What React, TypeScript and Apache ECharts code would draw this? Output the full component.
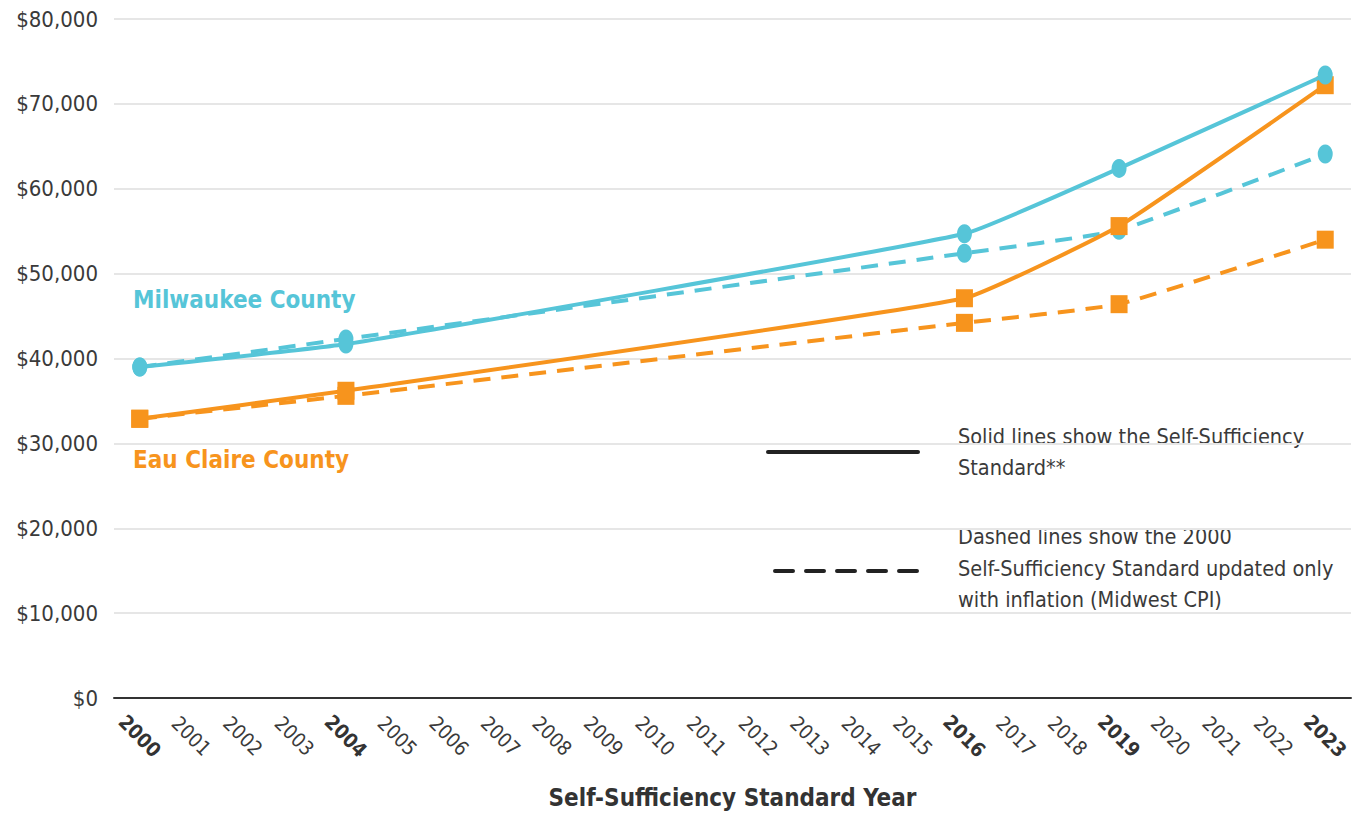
import React, { useEffect, useRef } from "react";
import * as echarts from "echarts";

const years = Array.from({ length: 24 }, (_, i) => String(2000 + i));
const boldYears = ["2000", "2004", "2016", "2019", "2023"];
const yTicks = [0, 10000, 20000, 30000, 40000, 50000, 60000, 70000, 80000];

// values at standard years (nulls elsewhere)
const milwaukeeSolid: Record<string, number> = { "2000": 39000, "2004": 41700, "2016": 54700, "2019": 62400, "2023": 73400 };
const milwaukeeDashed: Record<string, number> = { "2000": 39000, "2004": 42300, "2016": 52400, "2019": 55100, "2023": 64100 };
const eauClaireSolid: Record<string, number> = { "2000": 32900, "2004": 36200, "2016": 47100, "2019": 55600, "2023": 72200 };
const eauClaireDashed: Record<string, number> = { "2000": 32900, "2004": 35600, "2016": 44200, "2019": 46400, "2023": 54000 };

const CYAN = "#56C5D8";
const ORANGE = "#F7941D";
const TEXT = "#3a3a3a";
const FONT = "'Liberation Sans Narrow', 'DejaVu Sans Condensed', 'Roboto', sans-serif";

const toSeries = (m: Record<string, number>) => years.map((y) => (m[y] !== undefined ? m[y] : null));

export default function App() {
  const ref = useRef<HTMLDivElement>(null);
  useEffect(() => {
    if (!ref.current) return;
    const chart = echarts.init(ref.current, null, { renderer: "svg" });
    const line = (name: string, data: Record<string, number>, color: string, dashed: boolean, symbol: string, z: number) => ({
      name,
      type: "line",
      data: toSeries(data),
      connectNulls: true,
      smooth: 0.12,
      z,
      symbol,
      symbolSize: symbol === "circle" ? [15, 19] : [17, 18],
      itemStyle: { color },
      lineStyle: { color, width: 4, type: dashed ? [17, 11] : "solid" },
    });
    chart.setOption({
      animation: false,
      grid: { left: 114, right: 6, top: 19, bottom: 118, outerBoundsMode: "none" },
      xAxis: {
        type: "category",
        data: years,
        boundaryGap: true,
        axisLine: { lineStyle: { color: "#333", width: 2 } },
        axisTick: { show: false },
        axisLabel: {
          interval: 0,
          rotate: -45,
          margin: 38,
          align: "center",
          verticalAlign: "middle",
          fontFamily: FONT,
          fontSize: 20,
          color: TEXT,
          formatter: (v: string) => (boldYears.includes(v) ? `{b|${v}}` : v),
          rich: { b: { fontWeight: "bold", fontFamily: FONT, fontSize: 20, color: "#333" } },
        },
        name: "Self-Sufficiency Standard Year",
        nameLocation: "middle",
        nameGap: 88,
        nameTextStyle: { fontFamily: FONT, fontSize: 24, fontWeight: "bold", color: "#333" },
      },
      yAxis: {
        type: "value",
        min: yTicks[0],
        max: yTicks[yTicks.length - 1],
        interval: 10000,
        axisLine: { show: false },
        axisTick: { show: false },
        splitLine: { lineStyle: { color: "#e6e6e6", width: 2 } },
        axisLabel: {
          margin: 16,
          fontFamily: FONT,
          fontSize: 22,
          color: TEXT,
          formatter: (v: number) => "$" + v.toLocaleString("en-US"),
        },
      },
      series: [
        line("Eau Claire dashed", eauClaireDashed, ORANGE, true, "rect", 2),
        line("Milwaukee dashed", milwaukeeDashed, CYAN, true, "circle", 3),
        line("Eau Claire solid", eauClaireSolid, ORANGE, false, "rect", 4),
        line("Milwaukee solid", milwaukeeSolid, CYAN, false, "circle", 5),
      ],
      graphic: [
        { type: "text", left: 133, top: 288, style: { text: "Milwaukee County", fill: CYAN, font: `bold 24px ${FONT}` } },
        { type: "text", left: 133, top: 448, style: { text: "Eau Claire County", fill: ORANGE, font: `bold 24px ${FONT}` } },
        { type: "line", shape: { x1: 768, y1: 452, x2: 918, y2: 452 }, style: { stroke: "#222", lineWidth: 4, lineCap: "round" } },
        { type: "line", shape: { x1: 775, y1: 571, x2: 918, y2: 571 }, style: { stroke: "#222", lineWidth: 4, lineCap: "round", lineDash: [18, 13] } },
        {
          type: "text",
          left: 958,
          top: 421,
          style: { text: "Solid lines show the Self-Sufficiency\nStandard**", fill: TEXT, font: `21.5px ${FONT}`, lineHeight: 31 },
        },
        {
          type: "text",
          left: 958,
          top: 521,
          style: {
            text: "Dashed lines show the 2000\nSelf-Sufficiency Standard updated only\nwith inflation (Midwest CPI)",
            fill: TEXT,
            font: `21.5px ${FONT}`,
            lineHeight: 31.5,
          },
        },
      ],
    });
    return () => chart.dispose();
  }, []);
  return <div ref={ref} style={{ position: "fixed", left: 0, top: 0, width: 1357, height: 816, background: "#fff" }} />;
}
